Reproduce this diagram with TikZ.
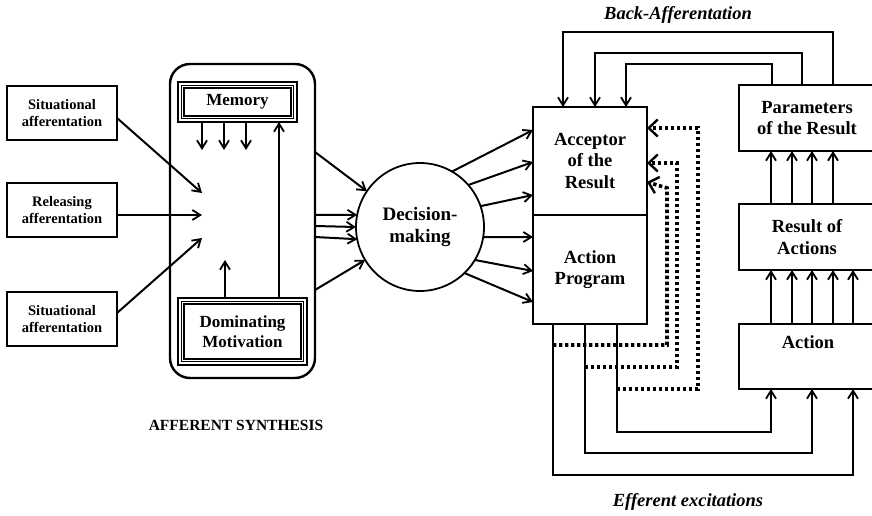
\documentclass[tikz,border=0pt]{standalone}
\usepackage{fontspec}
\setmainfont{Liberation Serif}
\usetikzlibrary{arrows.meta}
\begin{document}
\begin{tikzpicture}[x=1pt,y=-1pt,
  ln/.style={line width=2pt},
  arr/.style={ln,-{Straight Barb[length=8pt,width=10pt,line width=1.8pt]}},
  dotarr/.style={line width=3.6pt,dash pattern=on 3.4pt off 2.6pt,-{Straight Barb[length=9pt,width=17pt,line width=2.4pt]}},
  bx/.style={draw,line width=2.2pt,inner sep=0pt,outer sep=0pt,anchor=north west,align=center,font=\bfseries\fontsize{18.5}{21.5}\selectfont},
  smallbx/.style={draw,line width=1.3pt,inner sep=0pt,outer sep=0pt,anchor=north west,align=center,minimum width=110pt,minimum height=54pt,font=\bfseries\fontsize{14.5}{17}\selectfont},
  trip/.style={bx,line width=2.4pt,font=\bfseries\fontsize{17}{20}\selectfont},
  inl/.style={line width=1.1pt},
  lbl/.style={font=\bfseries\itshape\fontsize{18.5}{21}\selectfont}
]
\clip (0,0) rectangle (872,516);
\fill[white] (0,0) rectangle (872,516);

% left input boxes
\node[smallbx] (s1) at (7,86) {Situational\\afferentation};
\node[smallbx] (s2) at (7,183) {Releasing\\afferentation};
\node[smallbx] (s3) at (7,292) {Situational\\afferentation};

% afferent synthesis container
\node[draw,line width=2.4pt,rounded corners=20pt,inner sep=0pt,outer sep=0pt,anchor=north west,minimum width=145pt,minimum height=314pt] (afs) at (170,64) {};
\node[trip,minimum width=119pt,minimum height=40pt] (mem) at (178,82) {Memory};
\node[trip,minimum width=129pt,minimum height=67pt] (dom) at (178,298) {Dominating\\Motivation};
\foreach \n in {mem,dom}{
  \draw[inl] ([shift={(3.8pt,-3.8pt)}]\n.north west) rectangle ([shift={(-3.8pt,3.8pt)}]\n.south east);
  \draw[inl] ([shift={(6pt,-6pt)}]\n.north west) rectangle ([shift={(-6pt,6pt)}]\n.south east);
}
\coordinate (f1) at (202,193);
\coordinate (f2) at (202,215);
\coordinate (f3) at (202,238);
\draw[arr] (s1.east |- 0,118) -- (f1);
\draw[arr] (s2.east |- 0,215) -- (f2);
\draw[arr] (s3.east |- 0,313) -- (f3);
\foreach \x in {202,224,246}{\draw[arr] (mem.south -| \x,0) -- (\x,150);}
\coordinate (dm1) at (225,260);
\draw[arr] (dom.north -| 225,0) -- (dm1);
\draw[arr] (dom.north -| 279,0) -- (mem.south -| 279,0);

% decision making
\node[draw,circle,line width=1.8pt,minimum size=128pt,inner sep=0pt,outer sep=0pt,align=center,font=\bfseries\fontsize{19}{22}\selectfont] (dm) at (420,227) {Decision-\\making};
\draw[arr] (afs.east |- 0,152) -- (dm.146);
\draw[arr] (afs.east |- 0,215) -- (dm.169);
\draw[arr] (afs.east |- 0,226) -- (dm.180);
\draw[arr] (afs.east |- 0,237) -- (dm.191);
\draw[arr] (afs.east |- 0,290) -- (dm.211);

% acceptor and action program
\node[bx,minimum width=114pt,minimum height=108pt] (acc) at (533,107) {Acceptor\\of the\\Result};
\node[bx,minimum width=114pt,minimum height=109pt] (ap) at (533,215) {Action\\Program};
\draw[arr] (dm.60) -- (acc.west |- 0,130);
\draw[arr] (dm.41) -- (acc.west |- 0,162);
\draw[arr] (dm.19) -- (acc.west |- 0,195);
\draw[arr] (dm.-9) -- (ap.west |- 0,237);
\draw[arr] (dm.-31) -- (ap.west |- 0,271);
\draw[arr] (dm.-46) -- (ap.west |- 0,302);

% right column
\node[bx,minimum width=136pt,minimum height=66pt] (par) at (739,85) {Parameters\\of the Result};
\node[bx,minimum width=136pt,minimum height=66pt] (res) at (739,204) {Result of\\Actions};
\node[bx,minimum width=136pt,minimum height=65pt] (act) at (739,324) {};
\node[font=\bfseries\fontsize{18.5}{21.5}\selectfont] (actt) at (808,342) {Action};
\foreach \x in {771,792,812,833}{\draw[arr] (res.north -| \x,0) -- (par.south -| \x,0);}
\foreach \x in {771,792,812,833,853}{\draw[arr] (act.north -| \x,0) -- (res.south -| \x,0);}

% back-afferentation
\draw[arr] (par.north -| 833,0) -- (833,32) -- (563,32) -- (acc.north -| 563,0);
\draw[arr] (par.north -| 802,0) -- (802,53) -- (595,53) -- (acc.north -| 595,0);
\draw[arr] (par.north -| 772,0) -- (772,64) -- (626,64) -- (acc.north -| 626,0);
\node[lbl] (ba) at (678,15) {Back-Afferentation};

% efferent excitations
\draw[arr] (ap.south -| 617,0) -- (617,432) -- (771,432) -- (act.south -| 771,0);
\draw[arr] (ap.south -| 585,0) -- (585,453) -- (812,453) -- (act.south -| 812,0);
\draw[arr] (ap.south -| 553,0) -- (553,475) -- (853,475) -- (act.south -| 853,0);
\node[lbl] (ee) at (688,502) {Efferent excitations};

% dotted feedback
\draw[dotarr] (553,345) -- (667,345) -- (667,188) -- (acc.east |- 0,182);
\draw[dotarr] (585,367) -- (677,367) -- (677,163) -- (acc.east |- 0,163);
\draw[dotarr] (617,389) -- (698,389) -- (698,128) -- (acc.east |- 0,128);

\node[font=\bfseries\fontsize{15.5}{18}\selectfont] (as) at (236,425) {AFFERENT SYNTHESIS};
\end{tikzpicture}
\end{document}
